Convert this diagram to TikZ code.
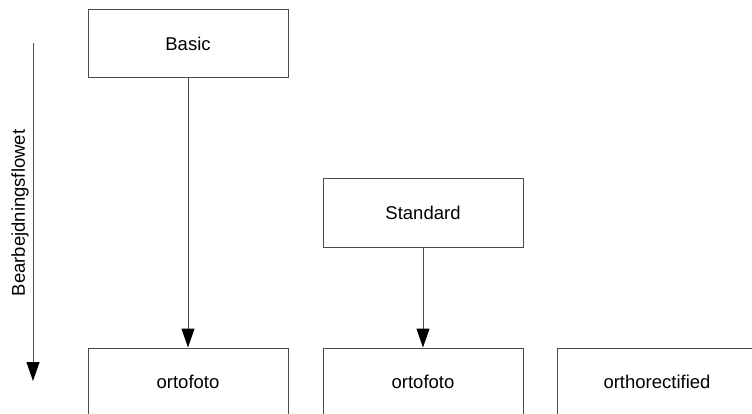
\documentclass[tikz,border=0pt]{standalone}
\usepackage{fontspec}
\setmainfont{Liberation Sans}
\usepackage{tikz}
\usetikzlibrary{arrows.meta,positioning}
\definecolor{BoxLine}{HTML}{4A4A4A}

\begin{document}
\begin{tikzpicture}[x=1pt,y=-1pt,
      level/.style={rectangle,minimum width=200pt,minimum height=68pt,draw=BoxLine,
      line width=1pt,fill=white,font=\fontsize{18.5}{22}\selectfont},
      arr/.style={-{Triangle[length=19pt,width=13pt,color=black]},BoxLine,line width=1pt}]
      \clip (0,0) rectangle (752,414);
      \fill[white] (0,0) rectangle (752,414);
      % processing levels
      \node[level] (basic) at (188,44) {Basic};
      \node[level,below=269pt of basic] (orto1) {ortofoto};
      \node[level,right=34pt of orto1] (orto2) {ortofoto};
      \node[level,right=33pt of orto2] (ortho) {orthorectified};
      \node[level,above=100pt of orto2] (standard) {Standard};
      \draw[arr] (basic)--(orto1);
      \draw[arr] (standard)--(orto2);
      % flow axis on the left
      \coordinate (flowtop) at (33,43);
      \coordinate (flowend) at (33,381);
      \draw[arr] (flowtop)--(flowend);
      \node[rotate=90,font=\fontsize{18.5}{22}\selectfont] (flowlabel) at (20,213) {Bearbejdningsflowet};
    \end{tikzpicture}
\end{document}
